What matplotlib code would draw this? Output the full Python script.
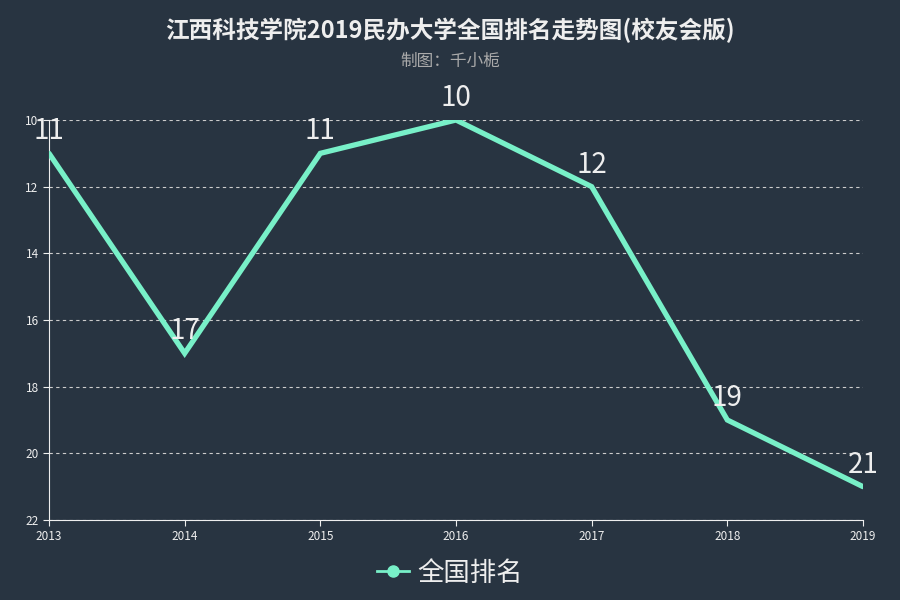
import matplotlib
matplotlib.use("Agg")
import matplotlib.pyplot as plt

plt.rcParams["font.family"] = ["Noto Sans CJK SC", "DejaVu Sans"]

years = [2013, 2014, 2015, 2016, 2017, 2018, 2019]
ranks = [11, 17, 11, 10, 12, 19, 21]
y_ticks = [10, 12, 14, 16, 18, 20, 22]

BG = "#283441"
LINE = "#78f0c8"

fig = plt.figure(figsize=(9, 6), dpi=100, facecolor=BG)
ax = fig.add_axes([49 / 900, 80 / 600, (863 - 49) / 900, 400 / 600])
ax.set_facecolor(BG)

ax.plot(years, ranks, "-", color=LINE, lw=3.8, solid_capstyle="round",
        solid_joinstyle="miter", zorder=3)
for x, y in zip(years, ranks):
    ax.annotate(str(y), (x, y), xytext=(0, 5), textcoords="offset points",
                ha="center", va="bottom", fontsize=20, color="#eeeeee",
                zorder=4)

ax.set_xlim(years[0], years[-1])
ax.set_ylim(22, 10)
ax.set_xticks(years)
ax.set_yticks(y_ticks)
ax.tick_params(colors="#eeeeee", labelsize=8.5, length=4)
ax.tick_params(axis="x", pad=3)
ax.yaxis.grid(True, color="#cccccc", ls=(0, (3, 3)), lw=0.8)
for side in ("top", "right"):
    ax.spines[side].set_visible(False)
for side in ("left", "bottom"):
    ax.spines[side].set_color("#eeeeee")

fig.text(0.5, 0.95, "江西科技学院2019民办大学全国排名走势图(校友会版)",
         ha="center", va="center", fontsize=17, fontweight="bold", color="#eeeeee")
fig.text(0.5, 0.897, "制图：千小栀", ha="center", va="center",
         fontsize=12, color="#aaaaaa")

leg_handle = plt.Line2D([], [], color=LINE, lw=2, marker="o", markersize=8)
fig.legend([leg_handle], ["全国排名"], loc="center", bbox_to_anchor=(0.5, 0.045),
           frameon=False, fontsize=19, labelcolor="#eeeeee",
           handlelength=1.2, handletextpad=0.3)

fig.savefig("out.png", dpi=100, facecolor=BG)
